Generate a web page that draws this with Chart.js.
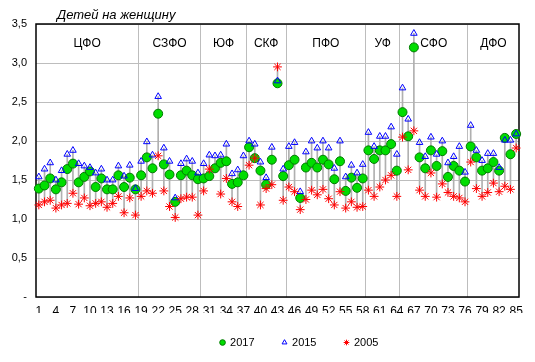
<!DOCTYPE html>
<html>
<head>
<meta charset="utf-8">
<script src="https://cdn.jsdelivr.net/npm/chart.js@4"></script>
<style>
  body { margin: 0; background: #fff; }
  #wrap { width: 535px; height: 362px; }
</style>
</head>
<body>
<div id="wrap"><canvas id="myChart"></canvas></div>
<script>
// regions are numbered 1..85, grouped by federal district
const regions = Array.from({ length: 85 }, (_, i) => String(i + 1));
const districts = ['ЦФО', 'СЗФО', 'ЮФ', 'СКФ', 'ПФО', 'УФ', 'СФО', 'ДФО'];
const districtSizes = [18, 11, 8, 7, 14, 6, 12, 9];

const tfr2017 = [
  1.39, 1.43, 1.52, 1.38, 1.47, 1.64, 1.71, 1.47, 1.54, 1.61,
  1.41, 1.52, 1.38, 1.38, 1.56, 1.41, 1.53, 1.38, 1.56, 1.79,
  1.65, 2.35, 1.70, 1.57, 1.22, 1.56, 1.62, 1.56, 1.51, 1.52,
  1.55, 1.65, 1.72, 1.74, 1.45, 1.47, 1.56, 1.92, 1.78, 1.62,
  1.44, 1.76, 2.74, 1.55, 1.69, 1.76, 1.27, 1.66, 1.72, 1.66,
  1.76, 1.70, 1.51, 1.74, 1.36, 1.53, 1.40, 1.52, 1.88, 1.77,
  1.88, 1.88, 1.96, 1.62, 2.37, 2.06, 3.20, 1.79, 1.65, 1.88,
  1.68, 1.87, 1.54, 1.68, 1.62, 1.48, 1.93, 1.79, 1.62, 1.65,
  1.73, 1.62, 2.04, 1.83, 2.09
];
const tfr2015 = [
  1.54, 1.64, 1.72, 1.50, 1.62, 1.83, 1.88, 1.71, 1.68, 1.66,
  1.59, 1.64, 1.50, 1.50, 1.68, 1.55, 1.69, 1.39, 1.74, 1.99,
  1.82, 2.57, 1.91, 1.74, 1.27, 1.71, 1.77, 1.74, 1.59, 1.71,
  1.82, 1.81, 1.82, 1.96, 1.58, 1.63, 1.81, 2.00, 1.96, 1.73,
  1.53, 1.92, 2.77, 1.64, 1.93, 1.98, 1.35, 1.86, 2.00, 1.91,
  2.00, 1.91, 1.65, 2.00, 1.54, 1.69, 1.59, 1.70, 2.11, 1.93,
  2.06, 2.06, 2.18, 1.83, 2.68, 2.28, 3.38, 1.98, 1.80, 2.05,
  1.83, 2.00, 1.72, 1.80, 1.93, 1.60, 2.20, 1.88, 1.75, 1.84,
  1.84, 1.66, 2.01, 2.01, 2.09
];
const tfr2005 = [
  1.18, 1.22, 1.24, 1.14, 1.18, 1.20, 1.33, 1.19, 1.27, 1.17,
  1.20, 1.22, 1.15, 1.20, 1.29, 1.08, 1.27, 1.05, 1.29, 1.36,
  1.33, 1.81, 1.36, 1.16, 1.02, 1.26, 1.28, 1.28, 1.05, 1.36,
  1.64, null, 1.32, 1.52, 1.22, 1.16, null, 1.69, 1.78, 1.18,
  1.39, 1.44, 2.95, 1.24, 1.41, 1.35, 1.12, 1.25, 1.37, 1.31,
  1.38, 1.26, 1.18, 1.35, 1.14, 1.22, 1.15, 1.16, 1.37, 1.29,
  1.41, 1.50, 1.56, 1.29, 2.05, 1.63, 2.13, 1.37, 1.29, 1.59,
  1.28, 1.45, 1.34, 1.29, 1.27, 1.22, 1.73, 1.39, 1.29, 1.34,
  1.46, 1.35, 1.42, 1.38, 1.91
];
const yTicks = [0, 0.5, 1.0, 1.5, 2.0, 2.5, 3.0, 3.5];

// thin grey line from lowest to highest of the three years
const hiLo = regions.map((r, i) => {
  const v = [tfr2017[i], tfr2015[i], tfr2005[i]].filter(a => a != null);
  return [Math.min(...v), Math.max(...v)];
});

Chart.defaults.font.family = '"Liberation Sans", Arial, sans-serif';
Chart.defaults.color = '#000';

const districtPlugin = {
  id: 'districts',
  beforeDatasetsDraw(chart) {
    const { ctx, chartArea, scales: { x } } = chart;
    ctx.save();
    ctx.strokeStyle = '#bdbdbd';
    ctx.lineWidth = 1;
    ctx.fillStyle = '#000';
    ctx.font = '12px "Liberation Sans", Arial, sans-serif';
    ctx.textAlign = 'center';
    ctx.textBaseline = 'middle';
    let start = 0;
    districtSizes.forEach((n, k) => {
      const end = start + n;
      if (end < regions.length) {
        const px = Math.floor((x.getPixelForValue(end - 1) + x.getPixelForValue(end)) / 2) + 0.5;
        ctx.beginPath();
        ctx.moveTo(px, chartArea.top);
        ctx.lineTo(px, chartArea.bottom);
        ctx.stroke();
      }
      const cx = (x.getPixelForValue(start) + x.getPixelForValue(end - 1)) / 2;
      ctx.fillText(districts[k], cx, chartArea.top + 20);
      start = end;
    });
    // frame round the plot
    ctx.strokeStyle = '#000';
    ctx.lineWidth = 1.5;
    ctx.strokeRect(chartArea.left, chartArea.top, chartArea.right - chartArea.left, chartArea.bottom - chartArea.top);
    // axis caption
    ctx.font = 'italic 13px "Liberation Sans", Arial, sans-serif';
    ctx.textAlign = 'left';
    ctx.textBaseline = 'alphabetic';
    ctx.fillText('Детей на женщину', chartArea.left + 21, chartArea.top - 5);
    ctx.restore();
  },
  afterLayout(chart) {
    // legend sits right of centre in the original
    const lg = chart.legend;
    lg.left += 40; lg.right += 40;
    lg.top -= 4; lg.bottom -= 4;
  }
};

var ctx = document.getElementById('myChart').getContext('2d');
var myChart = new Chart(ctx, {
  type: 'bar',
  data: {
    labels: regions,
    datasets: [
      {
        type: 'line', label: '2017', data: tfr2017, showLine: false, order: 3,
        pointStyle: 'circle', pointRadius: 4.5, pointHoverRadius: 4.5,
        backgroundColor: '#00dd00', borderColor: '#007a00', borderWidth: 1
      },
      {
        type: 'line', label: '2015', data: tfr2015, showLine: false, order: 2,
        pointStyle: 'triangle', pointRadius: 3.8, pointHoverRadius: 3.8,
        backgroundColor: 'rgba(255,255,255,0)', borderColor: '#0000ff', borderWidth: 1
      },
      {
        type: 'line', label: '2005', data: tfr2005, showLine: false, order: 1,
        pointStyle: 'star', pointRadius: 4.4, pointHoverRadius: 4.4,
        backgroundColor: '#ff0000', borderColor: '#ff0000', borderWidth: 1
      },
      {
        type: 'bar', label: 'range', data: hiLo, order: 4,
        backgroundColor: '#b0b0b0', barThickness: 1
      }
    ]
  },
  options: {
    responsive: true,
    maintainAspectRatio: false,
    animation: false,
    layout: { padding: { top: 24, right: 16, left: 0, bottom: 0 } },
    plugins: {
      tooltip: { enabled: false },
      legend: {
        position: 'bottom',
        labels: {
          usePointStyle: true,
          boxWidth: 4,
          boxHeight: 4,
          padding: 28,
          font: { size: 11 },
          filter: item => item.datasetIndex < 3,
          sort: (a, b) => a.datasetIndex - b.datasetIndex
        }
      }
    },
    scales: {
      x: {
        grid: { display: false, drawTicks: false },
        border: { display: false },
        ticks: {
          autoSkip: false,
          maxRotation: 0,
          padding: 7,
          font: { size: 12 },
          callback: (v, i) => (i % 3 === 0 ? regions[i] : '')
        },
        afterFit: s => { s.height = 16; }
      },
      y: {
        min: yTicks[0],
        max: yTicks[yTicks.length - 1],
        grid: { color: '#bdbdbd', drawTicks: false },
        border: { display: false },
        ticks: {
          stepSize: 0.5,
          padding: 9,
          font: { size: 11 },
          callback: v => (v === 0 ? '-' : v.toFixed(1).replace('.', ','))
        },
        afterFit: s => { s.width = 36; }
      }
    }
  },
  plugins: [districtPlugin]
});
</script>
</body>
</html>
